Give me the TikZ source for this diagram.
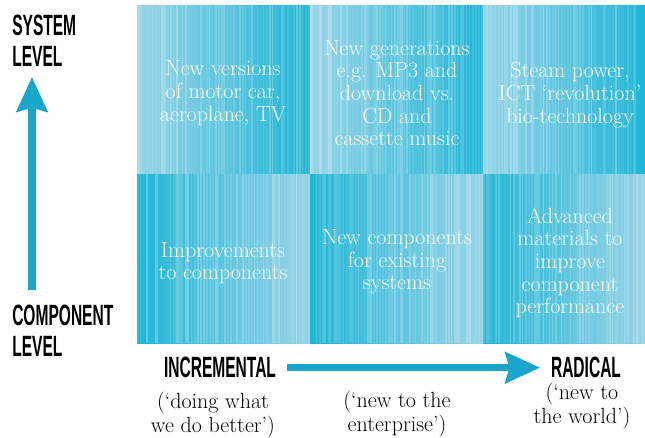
\documentclass[tikz,border=0pt]{standalone}
\usepackage{fontspec}
\usepackage{graphicx}
\usetikzlibrary{arrows.meta}
\newfontfamily\labelfont{Liberation Sans}
\definecolor{lb}{HTML}{98D3E6}
\definecolor{db}{HTML}{1CB5D6}
\definecolor{ab}{HTML}{1AA5CB}
\newcommand{\cond}[1]{\scalebox{0.53}[1]{#1}}
\newcommand{\stripecell}[6]{
\begin{scope}
\clip (#1,#2) rectangle (#3,#4);
\shade[left color=#5,right color=#6] (#1,#2) rectangle (#3,#4);
\foreach \k in {0,...,58}{
\pgfmathsetmacro{\sx}{#1+3*\k}
\pgfmathsetmacro{\op}{0.28*rnd}
\pgfmathsetmacro{\sw}{1+2*rnd}
\fill[white,opacity=\op] (\sx,#2) rectangle (\sx+\sw,#4);
}
\end{scope}
}
\pgfmathsetseed{11}

\begin{document}
\begin{tikzpicture}[x=0.75pt,y=0.75pt,
celltext/.style={text=white,align=center,font=\fontsize{16.5}{17}\selectfont},
axislabel/.style={inner sep=0pt,align=left,font=\labelfont\bfseries\fontsize{22}{23}\selectfont},
note/.style={inner sep=0pt,align=center,font=\fontsize{16.5}{15.5}\selectfont},
bigarrow/.style={draw=ab,line width=5.5pt,-{Stealth[length=26pt,width=23pt,inset=3pt]}}]
\useasboundingbox (0,0) rectangle (645,437);
% top row: light to dark
\stripecell{137}{263}{310}{432}{lb}{db}
\stripecell{310}{263}{483}{432}{lb}{db}
\stripecell{483}{263}{645}{432}{lb}{db}
% bottom row: dark to light
\stripecell{137}{94}{310}{263}{db}{lb}
\stripecell{310}{94}{483}{263}{db}{lb}
\stripecell{483}{94}{645}{263}{db}{lb}
\node[celltext] (t11) at (223,344) {New versions\\of motor car,\\aeroplane, TV};
\node[celltext] (t12) at (397,344) {New generations\\e.g. MP3 and\\download vs.\\CD and\\cassette music};
\node[celltext] (t13) at (570,342) {Steam power,\\ICT `revolution'\\bio-technology};
\node[celltext] (t21) at (223,174) {Improvements\\to components};
\node[celltext] (t22) at (397,175) {New components\\for existing\\systems};
\node[celltext] (t23) at (570,174) {Advanced\\materials to\\improve\\component\\performance};
% axes
\node[axislabel,anchor=north west] (sysL) at (12,422) {\cond{SYSTEM}\\\cond{LEVEL}};
\node[axislabel,anchor=north west] (compL) at (12,132) {\cond{COMPONENT}\\\cond{LEVEL}};
\node[axislabel,anchor=north] (incL) at (220,80) {\cond{INCREMENTAL}};
\node[axislabel,anchor=north] (radL) at (586,80) {\cond{RADICAL}};
\coordinate (vbot) at (32,147);
\coordinate (vtop) at (32,360);
\draw[bigarrow] (vbot) -- (vtop);
\draw[bigarrow,shorten <=8pt,shorten >=8pt] (incL.east) -- (radL.west);
\node[note,anchor=north] (n1) at (213,45) {(`doing what\\we do better')};
\node[note,anchor=north] (n2) at (397,46) {(`new to the\\enterprise')};
\node[note,anchor=north] (n3) at (582,54) {(`new to\\the world')};
\end{tikzpicture}
\end{document}
